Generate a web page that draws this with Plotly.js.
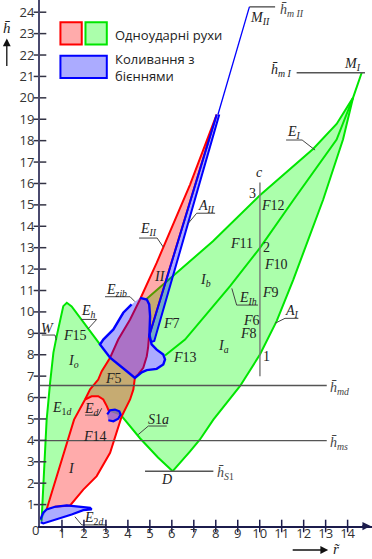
<!DOCTYPE html>
<html>
<head>
<meta charset="utf-8">
<script src="https://cdn.plot.ly/plotly-3.0.1.min.js"></script>
<style>
  html, body { margin: 0; padding: 0; background: #ffffff; }
  #chart { width: 372px; height: 559px; }
</style>
</head>
<body>
<div id="chart"></div>
<script>
// ---------- tick labels ----------
const rTicks = [1, 2, 3, 4, 5, 6, 7, 8, 9, 10, 11, 12, 13, 14];
const hTicks = [1, 2, 3, 4, 5, 6, 7, 8, 9, 10, 11, 12, 13, 14, 15, 16, 17, 18, 19, 20, 21, 22, 23, 24];

// ---------- region I (single-impact motions, green) ----------
// boundary W: from the origin up to the crest, then down to the tip of E_zib
const wallR = [0.07, 0.15, 0.23, 0.30, 0.46, 0.61, 0.76, 0.91, 1.06, 1.22, 1.44, 2.73];
const wallH = [0.21, 1.86, 3.42, 4.93, 6.70, 8.10, 8.87, 9.64, 10.27, 10.43, 10.26, 8.48];
// E_I, upper edge
const eIR = [4.82, 6.37, 7.87, 10.01, 11.23, 12.44, 13.50, 14.25];
const eIH = [10.58, 11.95, 13.30, 15.45, 16.55, 17.62, 18.78, 20.01];
// E_Ih, inner curve
const eIhR = [5.69, 6.60, 8.65, 10.01, 11.55, 13.50, 14.25];
const eIhH = [7.96, 8.71, 11.20, 12.99, 15.25, 18.05, 20.01];
// A_I, from M_I down to D
const aIR = [14.64, 14.25, 13.79, 12.89, 11.53, 10.77, 10.01, 9.10, 7.89, 7.28, 6.83, 6.04];
const aIH = [21.17, 20.01, 18.05, 15.25, 11.51, 9.57, 8.01, 6.53, 4.97, 4.04, 3.49, 2.56];
// S1a, from D back up to the band
const s1aR = [6.04, 5.37, 4.55, 3.72];
const s1aH = [2.56, 3.20, 4.10, 5.13];
// E_d arc
const edR = [2.05, 2.35, 2.65, 2.88, 3.04, 3.14];
const edH = [5.91, 6.06, 6.06, 5.91, 5.60, 5.36];

// ---------- band I / II (single-impact motions, red) ----------
const bandLeftR = [0.30, 0.68, 0.99, 1.26, 1.55, 2.05, 2.28, 2.65, 2.81, 3.19, 3.56, 4.10, 4.55, 5.31, 6.14, 6.83, 8.04];
const bandLeftH = [0.77, 2.02, 3.11, 4.04, 4.97, 5.91, 6.38, 6.84, 7.23, 7.86, 8.71, 9.65, 10.58, 12.29, 14.32, 15.95, 19.22];
const bandRightR = [8.04, 6.60, 5.60, 4.96, 4.92, 4.86, 4.70, 4.47, 4.32, 4.25, 4.10, 3.95, 3.72, 3.19, 2.58, 1.97, 1.37, 0.68];
const bandRightH = [19.22, 14.32, 10.91, 8.85, 8.34, 7.93, 7.39, 7.08, 6.94, 6.38, 5.91, 5.60, 5.13, 3.42, 2.33, 1.70, 0.96, 0.90];

// ---------- beating vibrations (blue) ----------
const zibR = [4.55, 4.86, 4.97, 5.01, 4.98, 5.08, 5.31, 5.61, 5.69, 5.61, 5.31, 4.86, 4.63, 4.32, 3.95, 3.64, 3.19, 2.73, 2.88, 3.34, 3.79, 4.17];
const zibH = [10.66, 10.58, 10.35, 9.80, 8.94, 8.48, 8.24, 8.01, 7.78, 7.54, 7.34, 7.28, 7.18, 6.92, 7.23, 7.50, 7.86, 8.48, 8.71, 9.18, 9.96, 10.35];
const aIIR = [8.04, 4.96, 5.06, 5.20, 8.16];
const aIIH = [19.22, 8.85, 8.60, 8.64, 19.22];
const riseR = [8.10, 9.53];
const riseH = [19.22, 24.25];
const blobR = [3.06, 3.19, 3.41, 3.61, 3.67, 3.56, 3.34, 3.11];
const blobH = [5.21, 5.41, 5.44, 5.36, 5.21, 5.01, 4.89, 4.94];
const e2dR = [0.01, 0.15, 0.30, 0.68, 1.22, 1.67, 2.28, 2.35, 1.97, 1.44, 0.91, 0.46, 0.15, 0.03];
const e2dH = [0.30, 0.62, 0.77, 0.90, 0.96, 0.90, 0.85, 0.77, 0.74, 0.54, 0.38, 0.22, 0.12, 0.18];

// ---------- reference levels ----------
const mdR = [0, 13.05], mdH = [6.56, 6.56];
const msR = [0, 13.05], msH = [3.99, 3.99];
const s1R = [4.78, 7.89], s1H = [2.56, 2.56];
const mIR = [11.68, 14.79], mIH = [21.17, 21.17];
const mIIR = [9.53, 10.70], mIIH = [24.25, 24.25];
const cR = [10.01, 10.01], cH = [7.0, 16.04];

// ---------- colours ----------
const GREEN = '#00e600', GREEN_FILL = 'rgba(0,255,0,0.33)';
const RED = '#ff0000', RED_FILL = 'rgba(255,0,0,0.33)';
const BLUE = '#0000ff', BLUE_FILL = 'rgba(0,0,255,0.33)';
const LEVEL = '#555555';

// outline of region I, assembled from its boundary curves
const regionR = [].concat(wallR, eIR, aIR, s1aR, edR.slice().reverse(), bandLeftR.slice(0, 6).reverse());
const regionH = [].concat(wallH, eIH, aIH, s1aH, edH.slice().reverse(), bandLeftH.slice(0, 6).reverse());

function area(r, h, fill, line, width) {
  return { x: r, y: h, type: 'scatter', mode: width ? 'lines' : 'none', fill: 'toself',
    fillcolor: fill, line: { color: line || fill, width: width || 0 }, hoverinfo: 'skip', showlegend: false };
}
function curve(r, h, color, width) {
  return { x: r, y: h, type: 'scatter', mode: 'lines', line: { color: color, width: width },
    hoverinfo: 'skip', showlegend: false };
}

const traces = [
  area(regionR, regionH, GREEN_FILL),
  area(zibR, zibH, '#ffffff'),
  curve(wallR, wallH, GREEN, 2),
  curve(eIR, eIH, GREEN, 2),
  curve(eIhR, eIhH, GREEN, 2),
  curve(aIR, aIH, GREEN, 2),
  curve(s1aR, s1aH, GREEN, 2),
  area(bandLeftR.concat(bandRightR), bandLeftH.concat(bandRightH), RED_FILL, RED, 2),
  curve(edR, edH, RED, 2),
  curve(mdR, mdH, LEVEL, 1.4),
  curve(msR, msH, LEVEL, 1.4),
  curve(s1R, s1H, LEVEL, 1.4),
  curve(mIR, mIH, LEVEL, 1.4),
  curve(mIIR, mIIH, LEVEL, 1.4),
  curve(cR, cH, '#777777', 1.4),
  area(zibR, zibH, BLUE_FILL, BLUE, 2.4),
  area(aIIR, aIIH, BLUE_FILL, BLUE, 2),
  curve(riseR, riseH, BLUE, 1.3),
  area(blobR, blobH, BLUE_FILL, BLUE, 2.2),
  area(e2dR, e2dH, BLUE_FILL, BLUE, 2.2)
];

// leader lines under the curve labels
const leaders = [
  [[11.20, 11.93, 12.52], [18.03, 18.03, 17.56]],
  [[8.73, 8.95, 9.92], [11.10, 10.32, 10.32]],
  [[10.70, 11.15, 11.76], [9.47, 9.70, 9.70]],
  [[5.61, 5.33, 4.51], [13.03, 13.45, 13.45]],
  [[6.75, 7.13, 7.97], [14.14, 14.61, 14.61]],
  [[2.96, 4.10, 4.32], [10.71, 10.71, 10.48]],
  [[1.87, 2.58, 2.18], [9.65, 9.65, 9.20]],
  [[0.08, 0.68, 0.75], [8.92, 8.92, 8.69]],
  [[2.05, 2.65, 2.81], [5.18, 5.18, 5.50]],
  [[4.47, 4.93, 5.77], [4.27, 4.67, 4.67]],
  [[1.59, 1.90, 3.04], [0.43, 0.05, 0.05]]
];
const leadR = [], leadH = [];
leaders.forEach(function (l) { leadR.push.apply(leadR, l[0].concat([null])); leadH.push.apply(leadH, l[1].concat([null])); });
traces.push(curve(leadR, leadH, '#444444', 1));

// crossing tick marks on both axes
traces.push({ x: rTicks, y: rTicks.map(function () { return 0; }), type: 'scatter', mode: 'markers',
  marker: { symbol: 'line-ns', size: 9, line: { color: '#1c1c4c', width: 1.5 } }, cliponaxis: false,
  hoverinfo: 'skip', showlegend: false });
traces.push({ x: hTicks.map(function () { return 0; }), y: hTicks, type: 'scatter', mode: 'markers',
  marker: { symbol: 'line-ew', size: 9, line: { color: '#333344', width: 1.5 } }, cliponaxis: false,
  hoverinfo: 'skip', showlegend: false });

// ---------- labels ----------
const SERIF = 'Liberation Serif';
const labels = [
  ['<i>M</i><sub><i>II</i></sub>', 10.01, 23.72],
  ['<i>c</i>', 9.97, 16.49],
  ['<i>h\u0304</i><sub><i>m I</i></sub>', 10.97, 21.30],
  ['<i>M</i><sub><i>I</i></sub>', 14.20, 21.58],
  ['<i>E</i><sub><i>I</i></sub>', 11.56, 18.40],
  ['3', 9.68, 15.54],
  ['<i>F</i>12', 10.62, 14.99],
  ['<i>F</i>11', 9.18, 13.20],
  ['2', 10.33, 13.02],
  ['<i>F</i>10', 10.75, 12.22],
  ['<i>F</i>9', 10.50, 10.92],
  ['<i>E</i><sub><i>Ih</i></sub>', 9.45, 10.62],
  ['<i>F</i>6', 9.64, 9.59],
  ['<i>F</i>8', 9.48, 9.00],
  ['<i>A</i><sub><i>I</i></sub>', 11.46, 10.03],
  ['1', 10.29, 7.91],
  ['<i>I</i><sub><i>a</i></sub>', 8.34, 8.37],
  ['<i>F</i>13', 6.62, 7.89],
  ['<i>I</i><sub><i>b</i></sub>', 7.51, 11.49],
  ['<i>F</i>7', 6.00, 9.47],
  ['<i>II</i>', 5.46, 11.64],
  ['<i>E</i><sub><i>II</i></sub>', 4.93, 13.83],
  ['<i>A</i><sub><i>II</i></sub>', 7.59, 14.92],
  ['<i>E</i><sub><i>zib</i></sub>', 3.49, 11.02],
  ['<i>E</i><sub><i>h</i></sub>', 2.20, 10.00],
  ['<i>F</i>15', 1.59, 8.92],
  ['<i>W</i>', 0.33, 9.22],
  ['<i>I</i><sub><i>o</i></sub>', 1.52, 7.67],
  ['<i>F</i>5', 3.34, 6.90],
  ['<i>E</i><sub>1<i>d</i></sub>', 0.99, 5.50],
  ['<i>E</i><sub><i>d</i></sub>', 2.35, 5.45],
  ['<i>S</i>1<i>a</i>', 5.38, 4.98],
  ['<i>F</i>14', 2.50, 4.17],
  ['<i>I</i>', 1.44, 2.70],
  ['<i>D</i>', 5.77, 2.18],
  ['<i>E</i><sub>2<i>d</i></sub>', 2.45, 0.35]
];
const sideLabels = [
  ['<i>h\u0304</i><sub><i>m II</i></sub>', 10.84, 24.08],
  ['<i>h\u0304</i><sub><i>S</i>1</sub>', 7.97, 2.46],
  ['<i>h\u0304</i><sub><i>ms</i></sub>', 13.11, 3.86],
  ['<i>h\u0304</i><sub><i>md</i></sub>', 13.11, 6.43]
];

const annotations = [];
labels.forEach(function (l) {
  annotations.push({ text: l[0], x: l[1], y: l[2], xref: 'x', yref: 'y', showarrow: false,
    xanchor: 'center', yanchor: 'middle', font: { family: SERIF, size: 14, color: '#222222' } });
});
sideLabels.forEach(function (l) {
  annotations.push({ text: l[0], x: l[1], y: l[2], xref: 'x', yref: 'y', showarrow: false,
    xanchor: 'left', yanchor: 'middle', font: { family: SERIF, size: 14, color: '#444444' } });
});
// axis names with arrows (placed in the margins, so paper coordinates)
annotations.push({ text: '<i>h\u0304</i>', x: -0.100, y: 0.946, xref: 'paper', yref: 'paper', showarrow: false,
  xanchor: 'center', yanchor: 'middle', font: { family: SERIF, size: 15, color: '#222222' } });
annotations.push({ text: '', x: -0.100, y: 0.927, xref: 'paper', yref: 'paper', showarrow: true, ax: 0, ay: 29,
  arrowhead: 2, arrowsize: 1.2, arrowwidth: 1.3, arrowcolor: '#111111' });
annotations.push({ text: '', x: 0.868, y: -0.0456, xref: 'paper', yref: 'paper', showarrow: true, ax: -37, ay: 0,
  arrowhead: 2, arrowsize: 1.2, arrowwidth: 1.3, arrowcolor: '#111111' });
annotations.push({ text: '<i>r\u0303</i>', x: 0.876, y: -0.044, xref: 'paper', yref: 'paper', showarrow: false,
  xanchor: 'left', yanchor: 'middle', font: { family: SERIF, size: 15, color: '#222222' } });
annotations.push({ text: '', x: 0.996, y: 0, xref: 'paper', yref: 'paper', showarrow: true, ax: -10, ay: 0,
  arrowhead: 2, arrowsize: 1.1, arrowwidth: 1.5, arrowcolor: '#1c1c4c' });
annotations.push({ text: '0', x: -0.015, y: -0.008, xref: 'paper', yref: 'paper', showarrow: false,
  xanchor: 'center', yanchor: 'middle', font: { family: 'Open Sans', size: 13, color: '#333333' } });
// legend captions
annotations.push({ text: 'Одноударні рухи', x: 3.32, y: 22.93, xref: 'x', yref: 'y', showarrow: false,
  xanchor: 'left', yanchor: 'middle', font: { family: 'Open Sans', size: 13, color: '#222222' } });
annotations.push({ text: 'Коливання з<br>бієннями', x: 3.32, y: 21.42, xref: 'x', yref: 'y', showarrow: false,
  xanchor: 'left', yanchor: 'middle', align: 'left', font: { family: 'Open Sans', size: 13, color: '#222222' } });

// legend swatches
const shapes = [
  { type: 'rect', xref: 'x', yref: 'y', x0: 0.93, x1: 1.90, y0: 22.49, y1: 23.53, fillcolor: RED_FILL, line: { color: RED, width: 2 } },
  { type: 'rect', xref: 'x', yref: 'y', x0: 2.07, x1: 3.04, y0: 22.49, y1: 23.53, fillcolor: GREEN_FILL, line: { color: GREEN, width: 2 } },
  { type: 'rect', xref: 'x', yref: 'y', x0: 0.93, x1: 3.04, y0: 20.93, y1: 21.97, fillcolor: BLUE_FILL, line: { color: BLUE, width: 2 } }
];

const layout = {
  width: 372, height: 559,
  margin: { l: 40, r: 0, t: 0, b: 33 },
  paper_bgcolor: '#ffffff', plot_bgcolor: '#ffffff',
  showlegend: false,
  xaxis: { range: [0, 15.11], showgrid: false, zeroline: false, showline: true, linecolor: '#1c1c4c', linewidth: 2,
    ticks: '', tickvals: rTicks, ticktext: rTicks.map(String), ticklabelstandoff: -6,
    tickfont: { family: 'Open Sans', size: 13, color: '#333333' }, fixedrange: true },
  yaxis: { range: [0, 24.57], showgrid: false, zeroline: false, showline: true, linecolor: '#4a4a6e', linewidth: 2,
    ticks: '', tickvals: hTicks, ticktext: hTicks.map(String), ticklabelstandoff: 1,
    tickfont: { family: 'Open Sans', size: 13, color: '#333333' }, fixedrange: true },
  shapes: shapes,
  annotations: annotations
};

Plotly.newPlot('chart', traces, layout, { displayModeBar: false, staticPlot: true });
</script>
</body>
</html>
